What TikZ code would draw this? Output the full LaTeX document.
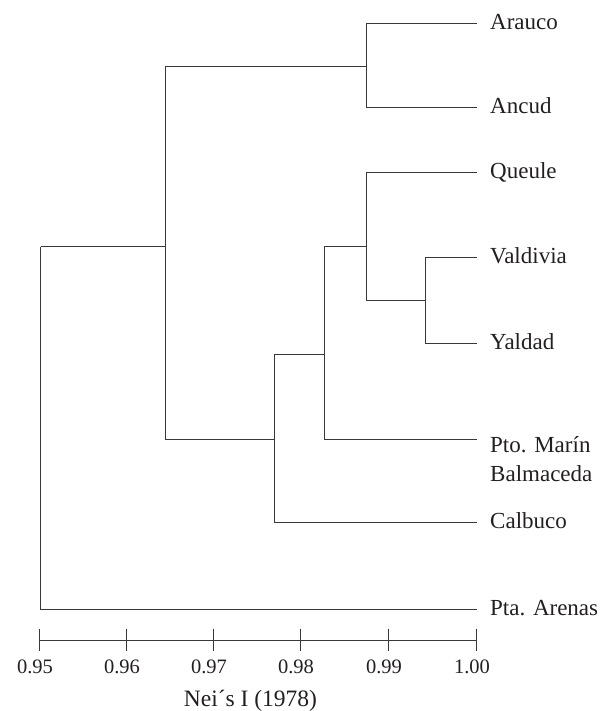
\documentclass[tikz,border=0pt]{standalone}
\usepackage{fontspec}
\setmainfont{Liberation Serif}
\definecolor{linegray}{HTML}{383838}
\definecolor{textblack}{HTML}{231F20}
\begin{document}
\begin{tikzpicture}[x=1pt,y=-1pt,
    branch/.style={line width=1.5pt,draw=linegray},
    leaf/.style={anchor=base west,inner sep=0pt,text=textblack,font=\fontsize{23}{29}\selectfont},
    ticklabel/.style={anchor=base,inner sep=0pt,text=textblack,font=\fontsize{20.5}{24}\selectfont}]

% \draw[step=50,gray,very thin] (0,0) grid (606,711);
\useasboundingbox (0,0) rectangle (606,711);

        % leaf ends
        \coordinate (arauco) at (476.5,23.5);
        \coordinate (ancud) at (476.5,107.5);
        \coordinate (queule) at (476.5,172.5);
        \coordinate (valdivia) at (476.5,257.5);
        \coordinate (yaldad) at (476.5,343.5);
        \coordinate (pmarin) at (476.5,439.5);
        \coordinate (calbuco) at (476.5,522.5);
        \coordinate (parenas) at (476.5,609.5);

        % joins
        \coordinate (root) at (40.5,246.5);
        \coordinate (join_a) at (165.5,246.5);
        \coordinate (join_b) at (274.5,439.5);
        \coordinate (join_c) at (324.5,354.5);
        \coordinate (join_d) at (366.5,246.5);
        \coordinate (join_e) at (366.5,66.5);
        \coordinate (join_f) at (425.5,300.5);

        \node (arauco_label) [leaf] at (490,29.5) {Arauco};
        \node (ancud_label) [leaf] at (490,113.5) {Ancud};
        \node (queule_label) [leaf] at (490,178.5) {Queule};
        \node (valdivia_label) [leaf] at (490,263.5) {Valdivia};
        \node (yaldad_label) [leaf] at (490,349.5) {Yaldad};
        \node (pmarin_label) [leaf,align=left] at (490,481) {Pto. Marín\\Balmaceda};
        \node (calbuco_label) [leaf] at (490,528.5) {Calbuco};
        \node (parenas_label) [leaf] at (490,615.5) {Pta. Arenas};

        \draw[branch] (join_e) |- (arauco);
        \draw[branch] (join_e) |- (ancud);
        \draw[branch] (join_f) |- (valdivia);
        \draw[branch] (join_f) |- (yaldad);
        \draw[branch] (join_d) |- (queule);
        \draw[branch] (join_d) |- (join_f);
        \draw[branch] (join_c) |- (join_d);
        \draw[branch] (join_c) |- (pmarin);
        \draw[branch] (join_b) |- (join_c);
        \draw[branch] (join_b) |- (calbuco);
        \draw[branch] (join_a) |- (join_e);
        \draw[branch] (join_a) |- (join_b);
        \draw[branch] (root) |- (join_a);
        \draw[branch] (root) |- (parenas);

        % scale
        \coordinate (axis_start) at (39.5,640.5);
        \coordinate (axis_end) at (476.5,640.5);
        \draw[branch] (axis_start) -- (axis_end);
        \foreach \x/\lab in {39.5/0.95,126.5/0.96,213.5/0.97,300.5/0.98,388.5/0.99,476.5/1.00} {
            \draw[branch] (\x,628.5) -- (\x,651);
            \node (tick_\lab) [ticklabel] at (\x-4.5,673.3) {\lab};
        }
        \node (axis_title) [ticklabel,font=\fontsize{23.5}{28}\selectfont] at (250.5,706) {Nei´s I (1978)};

    \end{tikzpicture}
\end{document}
